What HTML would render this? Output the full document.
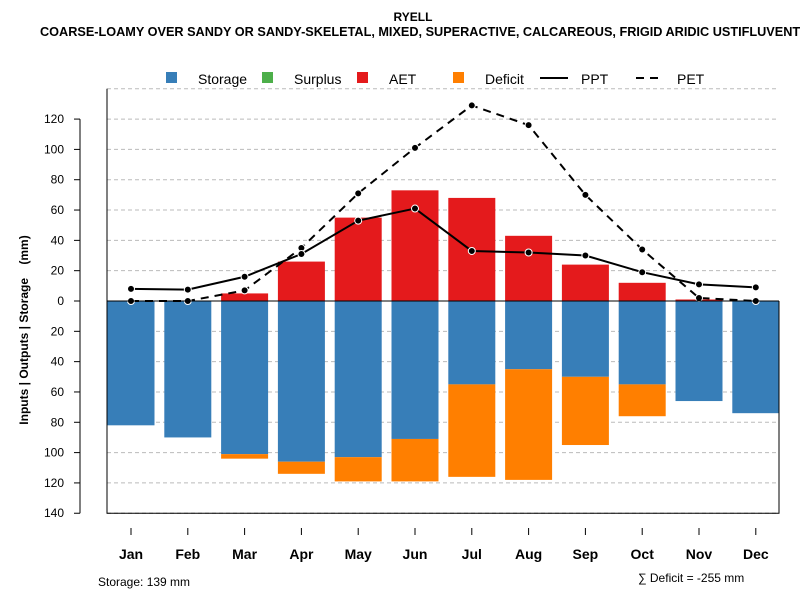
<!DOCTYPE html>
<html><head><meta charset="utf-8"><style>
body{margin:0;background:#fff;font-family:"Liberation Sans",sans-serif}
</style></head><body>
<svg width="800" height="600" xmlns="http://www.w3.org/2000/svg" font-family="Liberation Sans, sans-serif">
<text x="413" y="21" text-anchor="middle" font-weight="bold" font-size="12">RYELL</text>
<text x="40" y="36" font-weight="bold" font-size="12.7">COARSE-LOAMY OVER SANDY OR SANDY-SKELETAL, MIXED, SUPERACTIVE, CALCAREOUS, FRIGID ARIDIC USTIFLUVENTS</text>
<g id="grid"></g>
<g id="bars"></g>
<g id="lines"></g>
<g id="axes"></g>
<g font-size="14">
<rect x="166" y="72" width="11" height="11" fill="#377eb8"/>
<text x="198" y="84">Storage</text>
<rect x="262" y="72" width="11" height="11" fill="#4daf4a"/>
<text x="294" y="84">Surplus</text>
<rect x="357" y="72" width="11" height="11" fill="#e41a1c"/>
<text x="389" y="84">AET</text>
<rect x="453" y="72" width="11" height="11" fill="#ff7f00"/>
<text x="485" y="84">Deficit</text>
<line x1="540" y1="78" x2="568" y2="78" stroke="#000" stroke-width="2"/>
<text x="581" y="84">PPT</text>
<line x1="636" y1="78" x2="664" y2="78" stroke="#000" stroke-width="2" stroke-dasharray="8,6"/>
<text x="677" y="84">PET</text>
</g>
<text transform="translate(28,330) rotate(-90)" text-anchor="middle" font-weight="bold" font-size="12" xml:space="preserve">Inputs | Outputs | Storage    (mm)</text>
<text x="98" y="586" font-size="12">Storage: 139 mm</text>
<text x="638" y="582" font-size="12">∑ Deficit = -255 mm</text>
</svg>
<script>
const months=["Jan","Feb","Mar","Apr","May","Jun","Jul","Aug","Sep","Oct","Nov","Dec"];
const storage=[82,90,101,106,103,91,55,45,50,55,66,74];
const deficit=[0,0,3,8,16,28,61,73,45,21,0,0];
const aet=[0,0,5,26,55,73,68,43,24,12,1,0];
const ppt=[8,7.5,16,31,53,61,33,32,30,19,11,9];
const pet=[0,0,7,35,71,101,129,116,70,34,2,0];
const yTicks=[-140,-120,-100,-80,-60,-40,-20,0,20,40,60,80,100,120];
const NS="http://www.w3.org/2000/svg";
const X0=107,X1=779,step=56.8,bw=47;
const y=v=>301-v*1.516;
const xc=i=>X0+24+step*i;
function mk(tag,at,parent){const e=document.createElementNS(NS,tag);for(const k in at)e.setAttribute(k,at[k]);document.getElementById(parent).appendChild(e);return e;}
[-140,...yTicks.filter(v=>v!==0),140].forEach(v=>{const l=mk("line",{x1:X0,x2:X1,y1:y(v),y2:y(v),stroke:"#bbb","stroke-dasharray":"4,3"},"grid");

});
months.forEach((m,i)=>{
 const x=xc(i)-bw/2;
 let r=mk("rect",{x:x,y:y(0),width:bw,height:y(-storage[i])-y(0),fill:"#377eb8"},"bars");
 
 
 if(deficit[i]>0){r=mk("rect",{x:x,y:y(-storage[i]),width:bw,height:y(-storage[i]-deficit[i])-y(-storage[i]),fill:"#ff7f00"},"bars");
 
 }
 if(aet[i]>0){r=mk("rect",{x:x,y:y(aet[i]),width:bw,height:y(0)-y(aet[i]),fill:"#e41a1c"},"bars");
 
 }
});
let a=mk("path",{d:`M${X0} ${y(140)}V${y(-140)}H${X1}V${y(0)}`,fill:"none",stroke:"#000"},"axes");


a=mk("line",{x1:X0,x2:X1,y1:y(0),y2:y(0),stroke:"#000"},"axes");


a=mk("line",{x1:80,x2:80,y1:y(120),y2:y(-140),stroke:"#000"},"axes");


yTicks.forEach(v=>{mk("line",{x1:74,x2:80,y1:y(v),y2:y(v),stroke:"#000"},"axes");
 const t=mk("text",{x:64,y:y(v)+4,"text-anchor":"end","font-size":"12"},"axes");t.textContent=Math.abs(v);
 
 });
months.forEach((m,i)=>{mk("line",{x1:xc(i),x2:xc(i),y1:528,y2:535,stroke:"#000"},"axes");
 const t=mk("text",{x:xc(i),y:559,"text-anchor":"middle","font-size":"14","font-weight":"bold"},"axes");t.textContent=m;
 
 });
function series(vals,name,dash){
 const p=mk("polyline",{points:vals.map((v,i)=>xc(i)+","+y(v)).join(" "),fill:"none",stroke:"#000","stroke-width":2,"stroke-dasharray":dash},"lines");
 
 
 vals.forEach((v,i)=>{const c=mk("circle",{cx:xc(i),cy:y(v),r:3.5,fill:"#000",stroke:"#fff","stroke-width":1},"lines");
 
 });
}
series(pet,"pet","8,6");
series(ppt,"ppt","none");
</script>
</body></html>
